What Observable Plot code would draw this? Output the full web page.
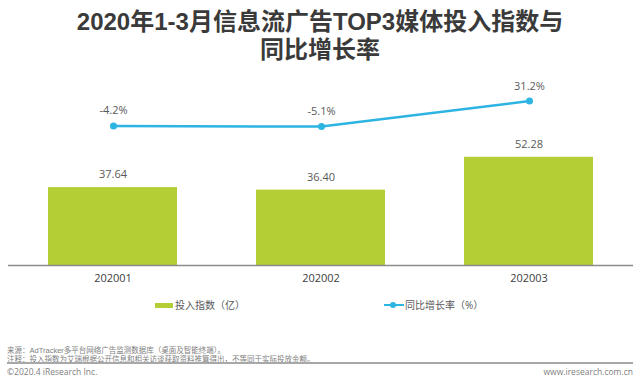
<!DOCTYPE html>
<html><head><meta charset="utf-8">
<script src="https://cdn.jsdelivr.net/npm/d3@7"></script>
<script src="https://cdn.jsdelivr.net/npm/@observablehq/plot@0.6"></script>
<style>
body{margin:0;background:#fff;}
#wrap{position:relative;width:640px;height:389px;overflow:hidden;font-family:"Open Sans","Noto Sans CJK SC",sans-serif;background:#fff;}
.abs{position:absolute;white-space:nowrap;}
.title{left:0;width:640px;text-align:center;font:bold 24px/26px "Liberation Sans","Noto Sans CJK SC",sans-serif;color:#3a3a3a;}
.leg{font-size:10px;line-height:14px;color:#595959;top:298px;}
.note{left:7px;font-family:"Liberation Sans","Noto Sans CJK SC",sans-serif;font-size:7.5px;line-height:8px;color:#808080;}
#rule{left:7px;top:362px;width:626px;height:2px;background:#a8a8a8;}
.foot{top:366px;font-size:8.5px;line-height:12px;color:#808080;}
</style></head><body>
<div id="wrap">
  <div class="abs title" style="top:9px;">2020年1-3月信息流广告TOP3媒体投入指数与</div>
  <div class="abs title" style="top:37px;">同比增长率</div>
  <div id="charts"></div>
  <div class="abs" style="left:155px;top:303px;width:18px;height:5px;background:#b3cf35;"></div>
  <div class="abs leg" style="left:175px;">投入指数（亿）</div>
  <div class="abs" style="left:384px;top:304px;width:20px;height:2px;background:#2db4e2;"></div>
  <div class="abs" style="left:390px;top:302px;width:6px;height:6px;border-radius:50%;background:#2db4e2;"></div>
  <div class="abs leg" style="left:405px;">同比增长率（%）</div>
  <div class="abs note" style="top:347px;">来源：AdTracker多平台网络广告监测数据库（桌面及智能终端）。</div>
  <div class="abs note" style="top:355.5px;">注释：投入指数为艾瑞根据公开信息和相关访谈获取资料推算得出，不等同于实际投放金额。</div>
  <div id="rule" class="abs"></div>
  <div class="abs foot" style="left:7px;">©2020.4 iResearch Inc.</div>
  <div class="abs foot" style="right:7px;">www.iresearch.com.cn</div>
</div>
<script>
const months = ["202001", "202002", "202003"];
const investIndex = [37.64, 36.40, 52.28];
const yoyGrowth = [-4.2, -5.1, 31.2];

const data = months.map((m, i) => ({month: m, index: investIndex[i], growth: yoyGrowth[i]}));

const xScale = {domain: months, paddingInner: 0.38, paddingOuter: 0.19, axis: null, label: null};
const common = {
  width: 640, height: 389, marginLeft: 8, marginRight: 7,
  style: {position: "absolute", left: "0px", top: "0px", background: "transparent", color: "#404040",
          fontFamily: "'Open Sans','Noto Sans CJK SC',sans-serif", overflow: "visible"}
};

const bars = Plot.plot({
  ...common,
  marginTop: 58, marginBottom: 124,
  x: xScale,
  y: {domain: [0, 100], axis: null},
  marks: [
    Plot.barY(data, {x: "month", y: "index", fill: "#b3cf35"}),
    Plot.ruleY([0], {stroke: "#8c8c8c", strokeWidth: 1.5}),
    Plot.text(data, {x: "month", y: "index", text: d => d.index.toFixed(2), dy: -13, fontSize: 11, fill: "#595959"}),
    Plot.axisX({tickSize: 0, tickPadding: 9, fontSize: 11, label: null})
  ]
});

const line = Plot.plot({
  ...common,
  marginTop: 52, marginBottom: 196,
  x: xScale,
  y: {domain: [-100, 100], axis: null},
  marks: [
    Plot.line(data, {x: "month", y: "growth", stroke: "#2db4e2", strokeWidth: 2.5}),
    Plot.dot(data, {x: "month", y: "growth", r: 3.5, fill: "#2db4e2"}),
    Plot.text(data, {x: "month", y: "growth", text: d => d.growth.toFixed(1) + "%", dy: -15, fontSize: 11, fill: "#595959"})
  ]
});

const host = document.getElementById("charts");
host.appendChild(bars);
host.appendChild(line);
</script>
</body></html>
